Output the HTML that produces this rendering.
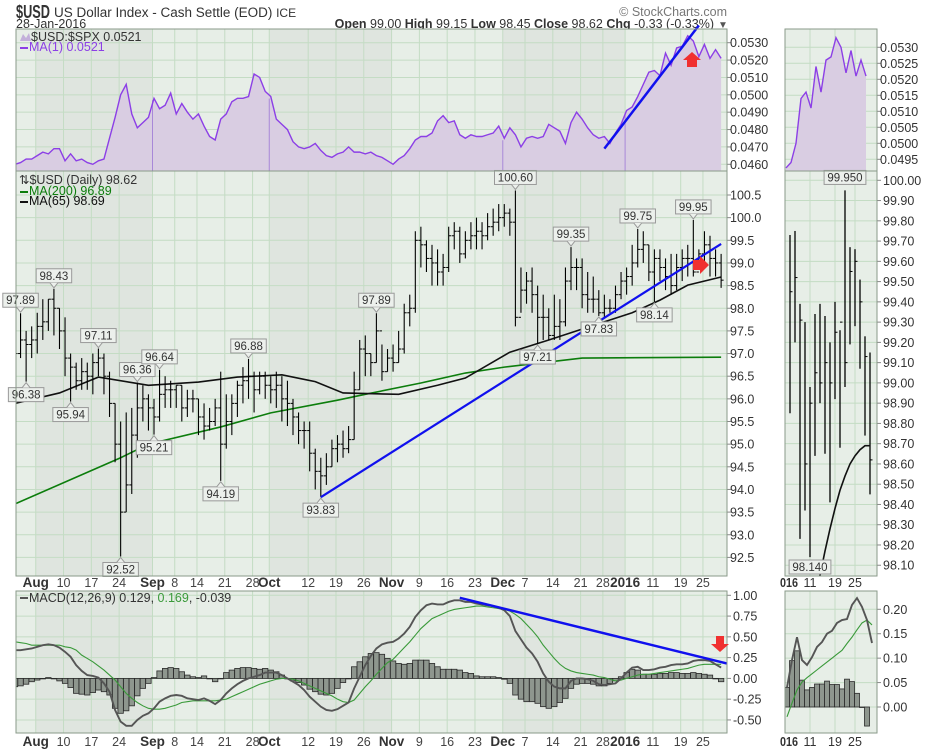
<!DOCTYPE html>
<html><head><meta charset="utf-8">
<style>
html,body{margin:0;padding:0;background:#fff;}
svg{display:block;font-family:"Liberation Sans",sans-serif;}
</style></head>
<body>
<svg id="chart" width="930" height="750" viewBox="0 0 930 750" xmlns="http://www.w3.org/2000/svg">
<text x="16" y="18" font-size="18" font-weight="bold" fill="#333" textLength="34" lengthAdjust="spacingAndGlyphs">$USD</text>
<text x="54" y="17" font-size="13.5" fill="#333">US Dollar Index - Cash Settle (EOD) <tspan font-size="12">ICE</tspan></text>
<text x="16" y="28" font-size="12.5" fill="#333">28-Jan-2016</text>
<text x="727" y="16" font-size="12.5" fill="#777" text-anchor="end">© StockCharts.com</text>
<text x="714" y="28" font-size="12.5" fill="#333" text-anchor="end"><tspan font-weight="bold">Open</tspan> 99.00  <tspan font-weight="bold">High</tspan> 99.15  <tspan font-weight="bold">Low</tspan> 98.45  <tspan font-weight="bold">Close</tspan> 98.62  <tspan font-weight="bold">Chg</tspan> -0.33 (-0.33%)</text>
<text x="718" y="28" font-size="10" fill="#555">▼</text>
<defs>
<clipPath id="cTop"><rect x="16" y="29" width="711" height="142"/></clipPath>
<clipPath id="cMain"><rect x="16" y="171" width="711" height="405"/></clipPath>
<clipPath id="cMacd"><rect x="16" y="591" width="711" height="142"/></clipPath>
<clipPath id="cmTop"><rect x="785" y="29" width="92" height="142"/></clipPath>
<clipPath id="cmMain"><rect x="785" y="171" width="92" height="405"/></clipPath>
<clipPath id="cmMacd"><rect x="785" y="591" width="92" height="142"/></clipPath>
</defs>
<g id="layer"></g>
</svg>
<script>
// ---------- DATA ----------
const closes = [97.0,97.3,97.2,97.3,
 97.6,97.7,98.2,98.0,97.5,
 96.9,96.7,96.4,96.6,96.5,
 96.8,96.9,96.5,95.9,95.0,
 93.5,94.1,95.2,95.8,96.0,
 95.8,95.6,96.1,96.2,96.2,
 96.3,95.8,96.0,96.0,
 95.6,95.4,95.5,95.8,95.0,
 95.5,95.9,96.3,96.4,96.5,
 96.2,96.5,96.3,96.2,96.3,
 96.0,95.9,95.6,95.3,95.3,
 94.8,94.4,94.3,94.5,94.9,
 95.0,94.9,95.1,96.2,97.1,
 97.0,96.8,97.5,96.6,96.9,
 96.8,97.1,97.9,98.0,99.5,
 99.4,99.1,99.0,98.8,98.9,
 99.6,99.7,99.2,99.5,99.6,
 99.7,99.6,99.8,99.9,
 100.0,100.1,99.9,97.8,98.4,
 98.6,98.3,97.8,97.8,97.4,
 97.6,97.7,98.6,98.9,98.9,
 98.3,98.2,98.2,97.9,
 98.0,98.0,98.3,98.6,
 98.7,99.0,99.3,99.4,98.8,
 99.1,98.9,98.7,98.5,98.9,
 99.1,99.1,98.8,99.2,
 99.4,99.1,99.0,98.62];
const highs = [97.3,97.89,97.5,97.6,
 97.9,98.2,98.2,98.43,98.0,
 97.8,97.0,96.8,96.9,96.8,
 97.0,97.11,97.0,96.6,95.9,
 95.5,95.7,95.8,96.36,96.3,
 96.1,96.0,96.64,96.5,96.4,
 96.3,96.3,96.2,96.2,
 96.0,95.9,95.8,96.0,96.6,
 96.1,96.1,96.4,96.7,96.88,
 96.6,96.6,96.6,96.5,96.6,
 96.5,96.4,96.0,95.7,95.5,
 95.5,94.9,94.7,94.8,95.1,
 95.2,95.3,95.4,96.6,97.3,
 97.4,97.0,97.89,97.2,97.1,
 97.2,97.5,98.1,98.3,99.7,
 99.8,99.5,99.4,99.3,99.2,
 99.8,99.9,99.8,99.7,99.9,
 100.0,99.9,100.1,100.2,
 100.3,100.3,100.2,100.60,98.9,
 98.8,98.9,98.5,98.3,98.0,
 98.3,98.2,98.9,99.35,99.1,
 99.1,98.8,98.7,98.4,
 98.3,98.2,98.5,98.8,
 98.9,99.4,99.75,99.7,99.4,
 99.3,99.3,99.1,99.2,99.2,
 99.3,99.4,99.95,99.3,
 99.7,99.6,99.3,99.2];
const lows = [96.6,96.9,96.38,96.9,
 97.0,97.3,97.5,97.4,97.1,
 96.5,95.94,96.2,96.2,96.2,
 96.1,96.5,96.1,95.6,94.6,
 92.52,93.5,93.9,94.7,95.5,
 95.3,95.21,95.5,95.8,95.8,
 95.8,95.5,95.6,95.7,
 95.2,95.1,95.3,95.4,94.19,
 94.9,95.2,95.6,95.9,96.0,
 95.7,96.1,96.0,95.9,95.8,
 95.5,95.4,95.2,95.0,94.9,
 94.4,94.0,93.83,94.1,94.5,
 94.6,94.7,94.8,95.1,96.2,
 96.5,96.5,96.8,96.4,96.6,
 96.6,96.8,97.0,97.6,97.9,
 98.9,98.8,98.5,98.5,98.5,
 98.8,99.3,99.0,99.1,99.3,
 99.3,99.3,99.5,99.6,
 99.7,99.8,99.6,97.6,97.9,
 98.1,97.9,97.21,97.3,97.3,
 97.3,97.3,97.6,98.4,98.4,
 98.0,97.9,97.9,97.83,
 97.8,97.9,97.9,98.2,
 98.3,98.5,98.9,99.0,98.6,
 98.14,98.6,98.4,98.3,98.4,
 98.6,98.7,98.7,98.9,
 99.0,98.7,98.7,98.45];
const ratio = [.0460,.0461,.0463,.0463,.0465,.0467,.0466,.0469,.0469,.0462,
 .0466,.0462,.0463,.0461,.0460,.0462,.0463,.0475,.0487,.0500,
 .0506,.0489,.0481,.0484,.0487,.0498,.0492,.0494,.0501,.0489,
 .0495,.0490,.0486,.0489,.0482,.0476,.0474,.0486,.0489,.0496,
 .0498,.0498,.0499,.0512,.0510,.0502,.0499,.0486,.0483,.0480,
 .0473,.0470,.0469,.0470,.0472,.0468,.0465,.0464,.0466,.0467,
 .0470,.0467,.0467,.0466,.0467,.0465,.0464,.0462,.0460,.0463,
 .0465,.0469,.0474,.0476,.0476,.0478,.0485,.0488,.0484,.0485,
 .0477,.0475,.0477,.0476,.0476,.0477,.0478,.0482,.0475,.0481,
 .0477,.0470,.0475,.0476,.0475,.0476,.0483,.0481,.0479,.0472,
 .0484,.0490,.0486,.0481,.0477,.0475,.0476,.0472,.0478,.0483,
 .0491,.0493,.0499,.0506,.0513,.0514,.0511,.0524,.0517,.0527,
 .0528,.0534,.0531,.0522,.0529,.0521,.0526,.0521];
const macdVals = [.34,.34,.35,.36,.38,.40,.41,.40,.37,.32,
 .26,.16,.09,.04,.03,.01,-.06,-.16,-.38,-.52,
 -.57,-.57,-.50,-.45,-.42,-.36,-.28,-.24,-.21,-.20,
 -.21,-.24,-.25,-.26,-.24,-.27,-.31,-.26,-.18,-.12,
 -.07,-.03,0,.02,.04,.07,.07,.07,.04,0,
 -.04,-.08,-.14,-.22,-.28,-.34,-.38,-.39,-.37,-.33,
 -.29,-.12,.02,.16,.27,.36,.41,.43,.44,.48,
 .54,.62,.74,.82,.88,.90,.89,.89,.92,.94,
 .94,.92,.92,.90,.89,.88,.87,.85,.82,.75,
 .57,.47,.37,.30,.20,.06,-.04,-.10,-.12,-.12,
 -.03,0,0,-.01,-.03,-.07,-.08,-.07,-.06,0,
 .07,.13,.14,.10,.10,.11,.13,.14,.16,.17,
 .17,.18,.21,.22,.22,.21,.17,.13];
const signalVals = [.44,.43,.42,.40,.40,.40,.40,.40,.40,.38,
 .37,.34,.28,.24,.20,.15,.10,.04,-.02,-.10,
 -.18,-.24,-.29,-.33,-.36,-.37,-.37,-.36,-.34,-.32,
 -.29,-.28,-.27,-.27,-.27,-.27,-.27,-.26,-.25,-.22,
 -.19,-.16,-.13,-.10,-.07,-.05,-.03,-.01,0,0,
 -.01,-.03,-.06,-.09,-.12,-.15,-.18,-.21,-.25,-.28,
 -.29,-.26,-.18,-.10,-.03,.05,.12,.19,.23,.30,
 .37,.44,.52,.60,.66,.72,.75,.78,.81,.83,
 .84,.85,.86,.87,.87,.86,.85,.84,.83,.81,
 .77,.72,.65,.58,.50,.40,.32,.24,.17,.12,
 .09,.07,.06,.05,.04,.02,.01,-.01,-.03,-.02,
 0,.02,.04,.05,.05,.06,.07,.08,.09,.10,
 .11,.12,.14,.16,.17,.17,.17,.17];
const ma65Day = [0,8,15,24,33,40,48,54,59,69,76,81,89,96,103,111,116,121,127];
const ma65Val = [95.9,96.13,96.48,96.3,96.37,96.48,96.53,96.38,96.13,96.1,96.3,96.46,97.03,97.3,97.58,97.9,98.18,98.51,98.69];
const ma200Day = [0,19,24,37,46,58,63,73,81,88,102,127];
const ma200Val = [93.68,94.7,95.0,95.38,95.69,95.97,96.1,96.35,96.57,96.7,96.9,96.92];
const labelDay = [1,2,7,10,15,19,22,25,26,37,42,55,65,90,94,100,105,112,115,122];
const labelDir = ['up','dn','up','dn','up','dn','up','dn','up','dn','up','dn','up','up','dn','up','dn','up','dn','up'];
const dateDay = [4,9,14,19,25,29,33,38,43,46,53,58,63,68,73,78,83,88,92,97,102,106,110,115,120,124];
const dateText = ['Aug','10','17','24','Sep','8','14','21','28','Oct','12','19','26','Nov','9','16','23','Dec','7','14','21','28','2016','11','19','25'];
const dateBold = ['Aug','Sep','Oct','Nov','Dec','2016'];
const monthStartDay = [4,25,46,68,88,110];
const priceTicks = [100.5,100.0,99.5,99.0,98.5,98.0,97.5,97.0,96.5,96.0,95.5,95.0,94.5,94.0,93.5,93.0,92.5];
const ratioTicks = [.0530,.0520,.0510,.0500,.0490,.0480,.0470,.0460];
const macdTicks = [1.00,0.75,0.50,0.25,0.00,-0.25,-0.50];
const trendPrice = [[55,93.83],[127,99.42]];
const trendRatio = [[106,.0469],[123,.0540]];
const trendMacd = [[80,0.97],[128,0.18]];
// mini (right) panels
const miniRatio = [.04923,.0494,.0500,.0514,.0516,.0511,.0524,.0516,.0526,.0527,.0533,.0530,.0522,.0529,.0521,.0526,.0521];
const miniHigh = [99.73,99.75,99.39,99.30,98.98,99.34,99.39,99.33,99.20,99.40,99.26,99.95,99.67,99.66,99.51,99.23,99.15];
const miniLow = [98.85,99.2,98.23,98.37,98.14,98.64,98.90,98.65,98.41,98.92,98.68,98.98,99.19,99.28,99.07,98.74,98.45];
const miniClose = [99.45,99.52,99.31,98.6,98.9,99.05,99.0,99.1,99.0,99.25,99.3,99.1,99.55,99.6,99.4,99.13,98.62];
const miniMa = [97.95,98.05,98.17,98.28,98.38,98.47,98.54,98.60,98.64,98.67,98.69,98.69];
const miniMacd = [.04,.096,.143,.096,.086,.102,.123,.133,.15,.156,.172,.178,.18,.209,.223,.205,.178,.131];
const miniSignal = [-.02,.008,.035,.051,.06,.068,.076,.084,.092,.1,.108,.116,.13,.143,.158,.172,.178,.168];
const miniHist = [.04,.095,.115,.055,.035,.04,.047,.047,.053,.046,.046,.037,.057,.052,.028,0,-.039];
const miniRatioTicks = [.0530,.0525,.0520,.0515,.0510,.0505,.0500,.0495];
const miniPriceTicks = [100.00,99.90,99.80,99.70,99.60,99.50,99.40,99.30,99.20,99.10,99.00,98.90,98.80,98.70,98.60,98.50,98.40,98.30,98.20,98.10];
const miniMacdTicks = [0.20,0.15,0.10,0.05,0.00];
const miniDateSlot = [0,5,10,14];
const miniDateText = ['016','11','19','25'];

// ---------- SCALES ----------
const X = i => 15 + 5.56*i;
const yP = p => 195 + (100.5-p)*45.3;
const yR = v => 42.7 + (0.053-v)*17371;
const yM = v => 678.4 - v*83.1;
const XM = i => 790 + 5*i;
const yPm = p => 180.3 + (100-p)*202.6;
const yRm = v => 47.3 + (0.053-v)*32000;
const yMm = v => 707 - v*488.5;

const NS = 'http://www.w3.org/2000/svg';
const root = document.getElementById('layer');
function mk(tag, attrs, parent){
  const e = document.createElementNS(NS, tag);
  for (const k in attrs) e.setAttribute(k, attrs[k]);
  (parent||root).appendChild(e);
  return e;
}
function grp(clip){ const g = mk('g', clip?{'clip-path':'url(#'+clip+')'}:{}); return g; }

const L=16, R=727, panels=[[29,171],[171,576],[591,733]];
const ML=785, MR=877;
const LIGHT='#e7eee7', DARK='#dfe5df', GRID='#c4dcc4';

panels.forEach((p,k)=>{
  const bg = mk('rect',{x:L,y:p[0],width:R-L,height:p[1]-p[0],fill:LIGHT});
  
  
  for (let m=0;m<monthStartDay.length;m+=2){
    const x0 = X(monthStartDay[m])-1.5, x1 = X(monthStartDay[m+1])-1.5;
    const band = mk('rect',{x:x0,y:p[0],width:x1-x0,height:p[1]-p[0],fill:DARK});
    
    
  }
  dateDay.forEach(d=>{ mk('line',{x1:X(d)-1.5,x2:X(d)-1.5,y1:p[0],y2:p[1],stroke:GRID,'stroke-width':1}); });
  const mb = mk('rect',{x:ML,y:p[0],width:MR-ML,height:p[1]-p[0],fill:LIGHT});
  
  
  miniDateSlot.forEach(s=>{ if(s>0) mk('line',{x1:XM(s)-5,x2:XM(s)-5,y1:p[0],y2:p[1],stroke:GRID}); });
});
function hgrid(ticks, yf, fmt, x0, x1, tx, cls){
  ticks.forEach(t=>{
    const y = yf(t);
    mk('line',{x1:x0,x2:x1,y1:y,y2:y,stroke:GRID});
    mk('line',{x1:x1,x2:x1+4,y1:y,y2:y,stroke:'#888'});
    const tl = mk('text',{x:tx,y:y+4.5,'font-size':12.5,fill:'#333'});
    tl.textContent = fmt(t);
    
    
  });
}
hgrid(ratioTicks, yR, t=>t.toFixed(4), L, R, 730, 'ratio-axis-label');
hgrid(priceTicks, yP, t=>t.toFixed(1), L, R, 730, 'price-axis-label');
hgrid(macdTicks, yM, t=>t.toFixed(2), L, R, 733, 'macd-axis-label');
hgrid(miniRatioTicks, yRm, t=>t.toFixed(4), ML, MR, 880, 'mini-ratio-axis-label');
hgrid(miniPriceTicks, yPm, t=>t.toFixed(2), ML, MR, 883, 'mini-price-axis-label');
hgrid(miniMacdTicks, yMm, t=>t.toFixed(2), ML, MR, 883, 'mini-macd-axis-label');

// ---------- TOP RATIO ----------
let g = grp('cTop');
let d = 'M'+X(0)+','+171;
ratio.forEach((v,i)=>{ d += ' L'+X(i)+','+yR(v); });
d += ' L'+X(ratio.length-1)+',171 Z';
let a = mk('path',{d:d,fill:'#d9cde2'},g);


[25,46,88,110].forEach(m=>mk('line',{x1:X(m)-1.5,x2:X(m)-1.5,y1:yR(ratio[m])+2,y2:171,stroke:'#a888d8','stroke-width':1},g));
let ln = mk('polyline',{points:ratio.map((v,i)=>X(i)+','+yR(v)).join(' '),fill:'none',stroke:'#8c3fe6','stroke-width':1.4},g);


let tr = mk('line',{x1:X(trendRatio[0][0]),y1:yR(trendRatio[0][1]),x2:X(trendRatio[1][0]),y2:yR(trendRatio[1][1]),stroke:'#1010ee','stroke-width':2.5},root);



// ---------- PRICE ----------
g = grp('cMain');
function poly(days, vals, yf, color, w, name, parent, xf){
  const p = mk('polyline',{points:days.map((dd,i)=>(xf||X)(dd)+','+yf(vals[i])).join(' '),fill:'none',stroke:color,'stroke-width':w},parent);
  
  
  return p;
}
poly(ma200Day, ma200Val, yP, '#0c7d0c', 1.6, 'ma200-line', g);
poly(ma65Day, ma65Val, yP, '#111', 1.6, 'ma65-line', g);
closes.forEach((c,i)=>{
  const x = X(i);
  const bar = mk('g',{},g);
  
  
  mk('line',{x1:x,x2:x,y1:yP(highs[i]),y2:yP(lows[i]),stroke:'#000','stroke-width':1.1},bar);
  const o = i>0 ? closes[i-1] : c;
  mk('line',{x1:x-2.5,x2:x,y1:yP(o),y2:yP(o),stroke:'#000','stroke-width':1},bar);
  mk('line',{x1:x,x2:x+2.5,y1:yP(c),y2:yP(c),stroke:'#000','stroke-width':1},bar);
});
tr = mk('line',{x1:X(trendPrice[0][0]),y1:yP(trendPrice[0][1]),x2:X(trendPrice[1][0]),y2:yP(trendPrice[1][1]),stroke:'#1010ee','stroke-width':2.2},g);


labelDay.forEach((dd,k)=>{
  const up = labelDir[k]==='up';
  const v = up ? highs[dd] : lows[dd];
  const x = X(dd), y = yP(v);
  const lg = mk('g',{});
  
  
  const txt = v.toFixed(2);
  const w = txt.length*6.3+4, h=14;
  const by = up ? y-6-h : y+6;
  mk('rect',{x:x-w/2,y:by,width:w,height:h,fill:'#ecf0ec',stroke:'#999','stroke-width':1},lg);
  const py = up ? by+h : by;
  mk('path',{d:`M${x-4},${py} L${x},${up?py+5:py-5} L${x+4},${py}`,fill:'#ecf0ec',stroke:'#999'},lg);
  const t = mk('text',{x:x,y:by+11,'font-size':11.5,fill:'#333','text-anchor':'middle'},lg);
  t.textContent = txt;
});

// ---------- MACD ----------
g = grp('cMacd');
macdVals.forEach((m,i)=>{
  const h = m - signalVals[i];
  const y0 = yM(0), y1 = yM(h);
  const r = mk('rect',{x:X(i)-2.7,y:Math.min(y0,y1),width:5.4,height:Math.max(0.5,Math.abs(y1-y0)),fill:'#8e968e',stroke:'#2a2a2a','stroke-width':0.8},g);
  
  
});
poly(macdVals.map((v,i)=>i), signalVals, yM, '#3a9a3a', 1.1, 'macd-signal-line', g);
poly(macdVals.map((v,i)=>i), macdVals, yM, '#555', 1.9, 'macd-line', g);
tr = mk('line',{x1:X(trendMacd[0][0]),y1:yM(trendMacd[0][1]),x2:X(trendMacd[1][0]),y2:yM(trendMacd[1][1]),stroke:'#1010ee','stroke-width':2.5},g);



// ---------- MINI PANELS ----------
g = grp('cmTop');
const XR = i => 786 + 5*i;
d = 'M'+XR(0)+',171';
miniRatio.forEach((v,i)=>{ d += ' L'+XR(i)+','+yRm(v); });
d += ' L'+XR(miniRatio.length-1)+',171 Z';
a = mk('path',{d:d,fill:'#d9cde2'},g);


poly(miniRatio.map((v,i)=>i), miniRatio, yRm, '#8c3fe6', 1.4, 'mini-ratio-line', g, XR);
g = grp('cmMain');
miniClose.forEach((c,i)=>{
  const x = XM(i);
  const bar = mk('g',{},g);
  
  
  mk('line',{x1:x,x2:x,y1:yPm(miniHigh[i]),y2:yPm(miniLow[i]),stroke:'#000','stroke-width':1.3},bar);
  mk('line',{x1:x,x2:x+2.5,y1:yPm(c),y2:yPm(c),stroke:'#000'},bar);
});
poly(miniMa.map((v,i)=>i+5), miniMa, yPm, '#111', 1.6, 'mini-ma65-line', g, XM);
[[11,'up'],[4,'dn']].forEach(([i,dir])=>{
  const up = dir==='up';
  const v = up ? miniHigh[i] : miniLow[i];
  const x = XM(i), y = yPm(v);
  const txt = v.toFixed(3), w = txt.length*6.3+4, h=14;
  const by = up ? y-6-h : Math.min(y+6, 560);
  const lg = mk('g',{});
  
  
  mk('rect',{x:x-w/2,y:by,width:w,height:h,fill:'#ecf0ec',stroke:'#999'},lg);
  const t = mk('text',{x:x,y:by+11,'font-size':11.5,fill:'#333','text-anchor':'middle'},lg);
  t.textContent = txt;
});
g = grp('cmMacd');
const XH = i => 787 + 5*i;
miniHist.forEach((h,i)=>{
  const y0 = yMm(0), y1 = yMm(h);
  const r = mk('rect',{x:XH(i)-2.5,y:Math.min(y0,y1),width:5,height:Math.max(0.5,Math.abs(y1-y0)),fill:'#8e968e',stroke:'#2a2a2a','stroke-width':0.8},g);
  
  
});
poly(miniSignal.map((v,i)=>i), miniSignal, yMm, '#3a9a3a', 1.1, 'mini-macd-signal-line', g, XH);
poly(miniMacd.map((v,i)=>i), miniMacd, yMm, '#555', 1.9, 'mini-macd-line', g, XH);

// ---------- borders ----------
panels.forEach(p=>{
  mk('rect',{x:L,y:p[0],width:R-L,height:p[1]-p[0],fill:'none',stroke:'#8a9a8a','stroke-width':1});
  mk('rect',{x:ML,y:p[0],width:MR-ML,height:p[1]-p[0],fill:'none',stroke:'#8a9a8a','stroke-width':1});
});

// ---------- date labels ----------
[587,746].forEach(yy=>{
  dateDay.forEach((dd,k)=>{
    const bold = dateBold.indexOf(dateText[k])>=0;
    const t = mk('text',{x:X(dd)-1.5,y:yy,'font-size':bold?13.5:12.5,'font-weight':bold?'bold':'normal',fill:bold?'#333':'#444','text-anchor':'middle'});
    t.textContent = dateText[k];
    
    
  });
  miniDateSlot.forEach((s,k)=>{
    const first = k===0;
    const t = mk('text',{x:first?780:XM(s)-5,y:yy,'font-size':first?12.5:12.5,'font-weight':first?'bold':'normal',fill:'#333','text-anchor':first?'start':'middle'});
    if (first) { t.setAttribute('textLength','18'); t.setAttribute('lengthAdjust','spacingAndGlyphs'); }
    t.textContent = miniDateText[k];
    
    
  });
});

// ---------- red arrows ----------
function arrow(d, name){
  const p = mk('path',{d:d,fill:'#f03030'});
  
  
}
arrow('M687,67 L687,60 L683,60 L692,52 L701,60 L697,60 L697,67 Z','ratio-up-arrow');
arrow('M693,260 L700,260 L700,256 L709,265 L700,274 L700,270 L693,270 Z','price-right-arrow');
arrow('M716,636 L724,636 L724,644 L729,644 L720,652 L711,644 L716,644 Z','macd-down-arrow');

// ---------- legends ----------
function legend(x,y,parts,name){
  const t = mk('text',{x:x,y:y,'font-size':12.5});
  
  
  parts.forEach(([s,c])=>{ const sp = mk('tspan',{fill:c},t); sp.textContent = s; });
}
mk('path',{d:'M20,41 L23,34 L26,38 L29,33 L31,41 Z',fill:'#c3b0da'});
legend(31,41,[['$USD:$SPX 0.0521','#333']],'ratio-legend');
mk('rect',{x:20,y:47,width:8,height:2,fill:'#8c3fe6'});
legend(29,51,[['MA(1) 0.0521','#8c3fe6']],'ma1-legend');
legend(19,184,[['⇅$USD (Daily) 98.62','#333']],'price-legend');
mk('rect',{x:20,y:191,width:8,height:2,fill:'#0c7d0c'});
legend(29,195,[['MA(200) 96.89','#0c7d0c']],'ma200-legend');
mk('rect',{x:20,y:201,width:8,height:2,fill:'#111'});
legend(29,205,[['MA(65) 98.69','#111']],'ma65-legend');
mk('rect',{x:20,y:597,width:8,height:2,fill:'#555'});
legend(29,602,[['MACD(12,26,9) 0.129, ','#333'],['0.169','#3a9a3a'],[', -0.039','#333']],'macd-legend');
</script>
</body></html>
